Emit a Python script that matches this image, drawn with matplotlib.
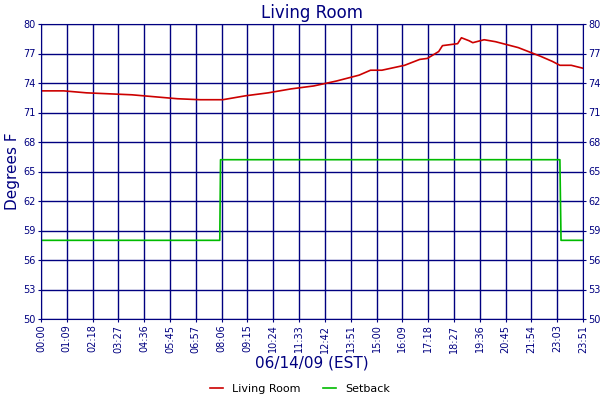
import matplotlib
matplotlib.use("Agg")
import matplotlib.pyplot as plt
import numpy as np

tick_labels = ["00:00","01:09","02:18","03:27","04:36","05:45","06:57","08:06","09:15","10:24","11:33",
               "12:42","13:51","15:00","16:09","17:18","18:27","19:36","20:45","21:54","23:03","23:51"]
temp_min = [0,60,120,180,240,300,360,420,480,540,600,660,720,780,840,870,900,960,1000,1020,1050,1060,1080,
            1100,1110,1130,1140,1170,1200,1260,1320,1350,1370,1400,1431]
temp_val = [73.2,73.2,73.0,72.9,72.8,72.6,72.4,72.3,72.3,72.7,73.0,73.4,73.7,74.2,74.8,75.3,75.3,75.8,76.4,76.5,
            77.2,77.8,77.9,78.0,78.6,78.3,78.1,78.4,78.2,77.6,76.7,76.2,75.8,75.8,75.5]
set_min = [0,472,474,1370,1373,1431]
set_val = [58.0,58.0,66.2,66.2,58.0,58.0]

navy = "#000080"
fig = plt.figure(figsize=(6,4), dpi=100)
ax = fig.add_axes([41/600, 1-319/400, 542/600, 295/400])
ax.plot(temp_min, temp_val, color="#cc0000", lw=1.2, label="Living Room")
ax.plot(set_min, set_val, color="#00bb00", lw=1.2, label="Setback")
ax.set_xlim(0, 1431)
ax.set_ylim(50, 80)
xt = np.linspace(0, 1431, len(tick_labels))
ax.set_xticks(xt)
ax.set_xticklabels(tick_labels, rotation=90, fontsize=7, color=navy)
ax.set_yticks(list(range(50,80,3))+[80])
ax.set_yticklabels([str(v) for v in range(50,80,3)]+["80"], fontsize=7, color=navy)
ax.grid(True, color=navy, lw=1)
ax.tick_params(colors=navy, length=2, pad=2, right=True, labelright=True)
for s in ax.spines.values():
    s.set_color(navy)
ax.set_title("Living Room", color=navy, fontsize=12, pad=4)
ax.set_ylabel("Degrees F", color=navy, fontsize=11, labelpad=2)
ax.set_xlabel("06/14/09 (EST)", color=navy, fontsize=11, labelpad=2)
fig.legend(loc="lower center", bbox_to_anchor=(0.5, -0.01), ncol=2, frameon=False, fontsize=8, handlelength=1.2)
fig.savefig("out.png", dpi=100)
